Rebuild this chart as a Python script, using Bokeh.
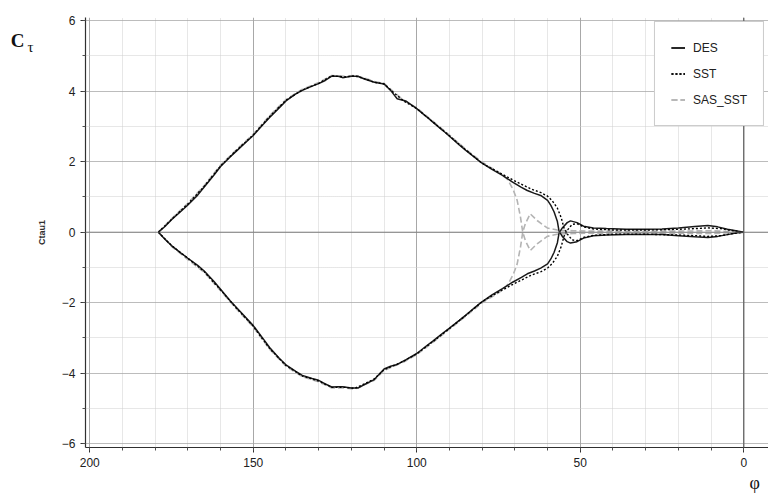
from bokeh.plotting import figure
from bokeh.models import Range1d, Legend, LegendItem, Span, FixedTicker, LinearAxis
from bokeh.embed import file_html
from bokeh.resources import INLINE

# ---------------- data ----------------
phi_des = [179, 177, 175, 172, 170, 167, 165, 162, 160, 157,
           155, 152, 150, 147, 145, 142, 140, 137, 135, 132,
           130, 128, 126, 124, 122.7, 120, 118, 116, 113, 110,
           108, 106, 103.4, 100, 97, 95, 92, 90, 87, 85,
           82, 80.4, 77, 73.8, 70.7, 68, 66.2, 64, 62.1, 60,
           59, 58, 57, 56.5, 55.5, 54, 53, 51, 49, 46,
           42, 36, 30, 25, 20, 15, 11, 8, 5, 2,
           0]
ctau_des_upper = [0.0, 0.16, 0.35, 0.6, 0.77, 1.05, 1.28, 1.62, 1.86, 2.14,
                  2.31, 2.57, 2.74, 3.05, 3.25, 3.53, 3.72, 3.92, 4.02, 4.14,
                  4.21, 4.3, 4.42, 4.42, 4.38, 4.42, 4.42, 4.34, 4.25, 4.2,
                  4.02, 3.78, 3.72, 3.5, 3.27, 3.11, 2.88, 2.72, 2.47, 2.32,
                  2.1, 1.98, 1.78, 1.61, 1.42, 1.27, 1.18, 1.1, 1.04, 0.9,
                  0.76, 0.57, 0.3, 0.03, -0.12, -0.27, -0.31, -0.27, -0.17, -0.1,
                  -0.08, -0.07, -0.07, -0.07, -0.1, -0.13, -0.15, -0.12, -0.07, -0.02,
                  0.0]
ctau_des_lower = [0.0, -0.2, -0.38, -0.6, -0.74, -0.94, -1.1, -1.4, -1.62, -1.95,
                  -2.15, -2.45, -2.65, -3.02, -3.27, -3.58, -3.76, -3.95, -4.06, -4.15,
                  -4.2, -4.3, -4.39, -4.38, -4.38, -4.42, -4.42, -4.32, -4.18, -3.88,
                  -3.8, -3.75, -3.62, -3.44, -3.22, -3.08, -2.86, -2.72, -2.5, -2.35,
                  -2.12, -2.0, -1.78, -1.6, -1.42, -1.28, -1.18, -1.1, -1.02, -0.9,
                  -0.76, -0.57, -0.3, -0.03, 0.12, 0.27, 0.32, 0.27, 0.17, 0.12,
                  0.1, 0.08, 0.08, 0.09, 0.12, 0.16, 0.19, 0.15, 0.08, 0.03,
                  0.0]

phi_sst = [179, 175, 170, 165, 160, 155, 150, 145, 140, 135,
           130, 126, 122, 119, 116, 113, 110, 107, 104, 100,
           95, 90, 85, 80, 75, 70, 65, 62, 60, 58.5,
           57, 55.8, 55, 54, 52.5, 51, 49, 46, 40, 30,
           20, 15, 11, 7, 4, 0]
ctau_sst_upper = [0.0, 0.36, 0.8, 1.3, 1.88, 2.33, 2.76, 3.28, 3.74, 4.03,
                  4.22, 4.43, 4.4, 4.43, 4.35, 4.25, 4.2, 3.95, 3.72, 3.5,
                  3.12, 2.73, 2.33, 1.95, 1.7, 1.45, 1.22, 1.12, 1.02, 0.88,
                  0.68, 0.4, 0.12, -0.05, -0.22, -0.24, -0.15, -0.09, -0.06, -0.06,
                  -0.08, -0.1, -0.12, -0.1, -0.05, 0.0]
ctau_sst_lower = [0.0, -0.38, -0.74, -1.12, -1.64, -2.17, -2.67, -3.3, -3.78, -4.08,
                  -4.22, -4.4, -4.4, -4.43, -4.3, -4.16, -3.9, -3.78, -3.66, -3.45,
                  -3.1, -2.73, -2.36, -1.97, -1.7, -1.45, -1.22, -1.12, -1.02, -0.88,
                  -0.68, -0.4, -0.12, 0.05, 0.22, 0.24, 0.15, 0.09, 0.06, 0.06,
                  0.08, 0.1, 0.12, 0.1, 0.05, 0.0]

phi_sas = [179, 175, 170, 165, 160, 155, 150, 145, 140, 135,
           130, 126, 122, 119, 116, 113, 110, 107, 104, 100,
           95, 90, 85, 80, 75, 72.5, 71.9, 70.5, 69.3, 68.3,
           67.6, 66.8, 65.3, 63.2, 60.1, 56.6, 52, 48, 40, 30,
           20, 10, 5, 0]
ctau_sas_upper = [0.0, 0.38, 0.82, 1.32, 1.9, 2.35, 2.78, 3.3, 3.76, 4.05,
                  4.24, 4.44, 4.42, 4.44, 4.37, 4.27, 4.22, 3.97, 3.74, 3.52,
                  3.14, 2.75, 2.35, 1.98, 1.7, 1.52, 1.44, 1.2, 0.9, 0.43,
                  0.0, -0.24, -0.52, -0.33, -0.12, -0.05, -0.04, -0.03, -0.03, -0.03,
                  -0.03, -0.04, -0.02, 0.0]
ctau_sas_lower = [0.0, -0.4, -0.78, -1.14, -1.66, -2.19, -2.69, -3.32, -3.8, -4.1,
                  -4.24, -4.42, -4.42, -4.45, -4.33, -4.2, -3.92, -3.8, -3.68, -3.47,
                  -3.12, -2.75, -2.38, -2.0, -1.72, -1.52, -1.44, -1.2, -0.9, -0.43,
                  0.0, 0.24, 0.52, 0.33, 0.12, 0.05, 0.04, 0.03, 0.03, 0.03,
                  0.03, 0.04, 0.02, 0.0]

x_major_ticks = [200, 150, 100, 50, 0]
x_minor_ticks = list(range(0, 201, 10))
y_major_ticks = [-6, -4, -2, 0, 2, 4, 6]
y_minor_ticks = list(range(-6, 7))

series_names = ["DES", "SST", "SAS_SST"]
y_symbol_main = "C"
y_symbol_sub = "τ"
x_symbol = "φ"

# ---------------- figure ----------------
p = figure(width=768, height=496, output_backend="svg", toolbar_location=None,
           x_range=Range1d(201.3, -7.55), y_range=Range1d(-6.105, 6.085),
           min_border_left=85, min_border_right=0, min_border_top=17,
           min_border_bottom=49, background_fill_color="white",
           border_fill_color="white")
p.outline_line_color = None

p.xaxis.ticker = FixedTicker(ticks=x_major_ticks, minor_ticks=x_minor_ticks)
p.yaxis.ticker = FixedTicker(ticks=y_major_ticks, minor_ticks=y_minor_ticks)

for ax in (p.xaxis[0], p.yaxis[0]):
    ax.axis_line_color = "#303030"
    ax.axis_line_width = 1.2
    ax.major_tick_line_color = "#303030"
    ax.minor_tick_line_color = "#505050"
    ax.major_tick_out = 5
    ax.major_tick_in = 0
    ax.minor_tick_out = 3
    ax.minor_tick_in = 0
    ax.major_label_text_font = "Liberation Sans"
    ax.major_label_text_font_size = "12px"
    ax.major_label_text_color = "#202020"
    ax.major_label_standoff = 5

p.yaxis.axis_label = "Ctau1"
p.yaxis.axis_label_text_font = "Liberation Sans"
p.yaxis.axis_label_text_font_size = "9px"
p.yaxis.axis_label_text_font_style = "bold"
p.yaxis.axis_label_text_color = "#303030"
p.yaxis.axis_label_standoff = 12


def symbol_axis(pos, text, size, style="normal"):
    ax = LinearAxis(ticker=FixedTicker(ticks=[pos], minor_ticks=[]),
                    major_label_overrides={pos: text})
    ax.axis_line_color = None
    ax.major_tick_line_color = None
    ax.minor_tick_line_color = None
    ax.major_tick_out = 0
    ax.major_tick_in = 0
    ax.minor_tick_out = 0
    ax.minor_tick_in = 0
    ax.major_label_standoff = 0
    ax.major_label_text_font = "Liberation Serif"
    ax.major_label_text_font_size = size
    ax.major_label_text_font_style = style
    ax.major_label_text_color = "#111111"
    return ax


# "Cτ" symbol to the left of the y axis (τ nearer the frame, C outside it)
p.add_layout(symbol_axis(5.25, y_symbol_sub, "15px"), "left")
p.add_layout(symbol_axis(5.44, y_symbol_main, "19px", "bold"), "left")
# "φ" symbol below the x axis, at the bottom-right corner
phi_ax = symbol_axis(-3.3, x_symbol, "18px")
phi_ax.major_label_standoff = 3
p.add_layout(phi_ax, "below")

p.xgrid.grid_line_color = "#a8a8a8"
p.xgrid.grid_line_width = 1
p.ygrid.grid_line_color = "#909090"
p.ygrid.grid_line_dash = "1 1"
for g in (p.xgrid[0], p.ygrid[0]):
    g.minor_grid_line_color = "#cfcfcf"
    g.minor_grid_line_dash = "1 1"

p.add_layout(Span(location=0, dimension="height", line_color="#606060", line_width=1.2))
p.add_layout(Span(location=0, dimension="width", line_color="#707070", line_width=1.5,
                  line_dash="1 1"))

# SAS_SST (grey dashed) drawn first, underneath
sas_u = p.line(phi_sas, ctau_sas_upper, line_color="#b4b4b4", line_width=1.6, line_dash="6 3")
sas_l = p.line(phi_sas, ctau_sas_lower, line_color="#b4b4b4", line_width=1.6, line_dash="6 3")
des_u = p.line(phi_des, ctau_des_upper, line_color="#1a1a1a", line_width=1.5)
des_l = p.line(phi_des, ctau_des_lower, line_color="#1a1a1a", line_width=1.5)
sst_u = p.line(phi_sst, ctau_sst_upper, line_color="#000000", line_width=1.4, line_dash="2 2")
sst_l = p.line(phi_sst, ctau_sst_lower, line_color="#000000", line_width=1.4, line_dash="2 2")

legend = Legend(items=[
    LegendItem(label=series_names[0], renderers=[des_u, des_l]),
    LegendItem(label=series_names[1], renderers=[sst_u, sst_l]),
    LegendItem(label=series_names[2], renderers=[sas_u, sas_l]),
], location="top_right")
legend.margin = 4
legend.padding = 16
legend.spacing = 7
legend.glyph_width = 14
legend.glyph_height = 19
legend.label_height = 19
legend.label_standoff = 8
legend.label_text_font = "Liberation Sans"
legend.label_text_font_size = "12px"
legend.label_text_color = "#202020"
legend.border_line_color = "#9a9a9a"
legend.border_line_width = 1.2
legend.background_fill_color = "white"
legend.background_fill_alpha = 1.0
p.add_layout(legend)

open("out.html", "w").write(file_html(p, INLINE))
